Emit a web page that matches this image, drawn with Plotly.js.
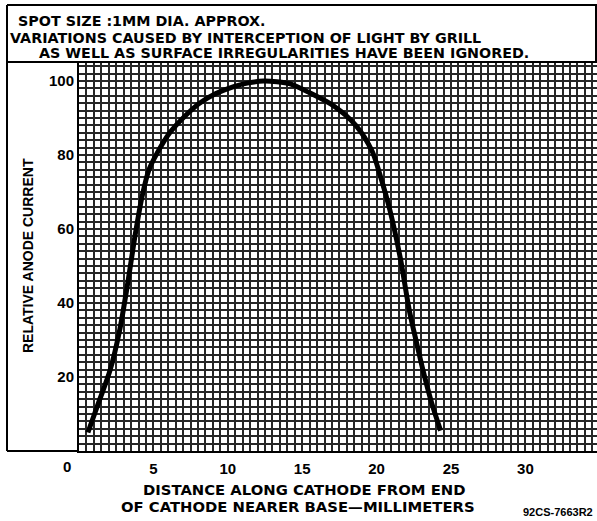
<!DOCTYPE html>
<html>
<head>
<meta charset="utf-8">
<script src="https://cdn.plot.ly/plotly-3.0.1.min.js"></script>
<style>html,body{margin:0;padding:0;background:#fff;}#chart{width:597px;height:521px;}</style>
</head>
<body>
<div id="chart"></div>
<script>
// Distance along cathode (mm) and relative anode current (%)
const distanceMm = [0.6, 1.4, 2.1, 2.75, 3.3, 3.8, 4.25, 4.7, 5.25, 6.1, 7.3, 8.1, 9.2, 10.4, 11.4, 12.4, 13.3, 14.2, 15.5, 17.1, 18.6, 19.7, 20.2, 20.9, 21.6, 22.2, 22.7, 23.2, 23.7, 24.3];
const relCurrent = [5, 14, 22, 33, 46, 59, 69, 76, 80.5, 86, 91.2, 94, 96.6, 98.5, 99.5, 100, 99.8, 99.2, 96.8, 93.3, 88, 81, 75, 65, 52, 38, 29, 20.5, 13, 5.5];

const xTickVals = [5, 10, 15, 20, 25, 30];
const xTickText = ["5", "10", "15", "20", "25", "30"];
const yTickVals = [20, 40, 60, 80, 100];
const yTickText = ["20", "40", "60", "80", "100"];

const headerLines = [
  "SPOT SIZE :1MM DIA. APPROX.",
  "VARIATIONS CAUSED BY INTERCEPTION OF LIGHT BY GRILL",
  "AS WELL AS SURFACE IRREGULARITIES HAVE BEEN IGNORED."
];
const xTitleLines = ["DISTANCE ALONG CATHODE FROM END", "OF CATHODE NEARER BASE\u2014MILLIMETERS"];
const yTitle = "RELATIVE ANODE CURRENT";
const figCode = "92CS-7663R2";

const W = 597, H = 521, L = 79, R = 0, T = 62, B = 70;
const pw = W - L - R, ph = H - T - B;
const px = v => (v - L) / pw;         // pixel x -> paper x
const py = v => (H - B - v) / ph;     // pixel y -> paper y
const xMax = pw / 14.88, yMax = ph / 3.7;

// graph-paper rulings: every 0.5 mm and every 2 units; labels only at the named ticks
const xGridStep = 0.5, yGridStep = 2;
const xGridVals = [], xGridText = [];
for (let i = 0; i * xGridStep <= xMax; i++) {
  const v = i * xGridStep; xGridVals.push(v);
  const k = xTickVals.indexOf(v); xGridText.push(k >= 0 ? xTickText[k] : "");
}
const yGridVals = [], yGridText = [];
for (let i = 0; i * yGridStep <= yMax; i++) {
  const v = i * yGridStep; yGridVals.push(v);
  const k = yTickVals.indexOf(v); yGridText.push(k >= 0 ? yTickText[k] : "");
}

const headFont = {family: "DejaVu Sans, sans-serif", size: 14.3, color: "#000", weight: 700};
const xTitleFont = {family: "DejaVu Sans, sans-serif", size: 14.8, color: "#000", weight: 700};
const tickFont = {family: "Liberation Sans, Arial, sans-serif", size: 15, color: "#000", weight: 700};
const yTitleFont = {family: "Liberation Sans, Arial, sans-serif", size: 14, color: "#000", weight: 700};
const gridCol = "#262626";

const trace = {
  x: distanceMm, y: relCurrent, type: "scatter", mode: "lines",
  line: {color: "#000", width: 5, shape: "spline", smoothing: 0.8},
  hoverinfo: "skip", showlegend: false
};

const ann = [];
ann.push({xref:"paper", yref:"paper", x:px(16), y:py(21), xanchor:"left", yanchor:"middle", text:headerLines[0], showarrow:false, font:headFont});
ann.push({xref:"paper", yref:"paper", x:px(8), y:py(37.5), xanchor:"left", yanchor:"middle", text:headerLines[1], showarrow:false, font:headFont});
ann.push({xref:"paper", yref:"paper", x:px(37), y:py(53), xanchor:"left", yanchor:"middle", text:headerLines[2], showarrow:false, font:headFont});
ann.push({xref:"paper", yref:"paper", x:px(304), y:py(489), xanchor:"center", yanchor:"middle", text:xTitleLines[0], showarrow:false, font:xTitleFont});
ann.push({xref:"paper", yref:"paper", x:px(298), y:py(506), xanchor:"center", yanchor:"middle", text:xTitleLines[1], showarrow:false, font:xTitleFont});
ann.push({xref:"paper", yref:"paper", x:px(595), y:py(512), xanchor:"right", yanchor:"middle", text:figCode, showarrow:false, font:{family:"Liberation Sans, Arial, sans-serif", size:11, color:"#000", weight:700}});
ann.push({xref:"paper", yref:"paper", x:px(28), y:py(256), xanchor:"center", yanchor:"middle", textangle:-90, text:yTitle, showarrow:false, font:yTitleFont});
ann.push({xref:"paper", yref:"paper", x:px(67), y:py(466), xanchor:"center", yanchor:"middle", text:"0", showarrow:false, font:tickFont});

const lineStyle = {color:"#000", width:2};
const shapes = [
  {type:"line", xref:"paper", yref:"paper", x0:px(7), x1:px(7), y0:py(451), y1:py(5), line:lineStyle},
  {type:"line", xref:"paper", yref:"paper", x0:px(7), x1:px(597), y0:py(5), y1:py(5), line:lineStyle},
  {type:"line", xref:"paper", yref:"paper", x0:px(7), x1:px(597), y0:1, y1:1, line:lineStyle},
  {type:"line", xref:"paper", yref:"paper", x0:px(7), x1:0, y0:0, y1:0, line:lineStyle},
  {type:"line", xref:"paper", yref:"paper", x0:px(596), x1:px(596), y0:1, y1:py(5), line:lineStyle}
];

const layout = {
  width: W, height: H,
  margin: {l: L, r: R, t: T, b: B, pad: 0},
  paper_bgcolor: "#fff", plot_bgcolor: "#fff",
  showlegend: false,
  xaxis: {
    range: [0, xMax], fixedrange: true,
    tickmode: "array", tickvals: xGridVals, ticktext: xGridText,
    ticks: "", ticklabelstandoff: 3, tickfont: tickFont,
    showgrid: true, gridcolor: gridCol, gridwidth: 2,
    zeroline: false, showline: true, linecolor: "#000", linewidth: 2
  },
  yaxis: {
    range: [0, yMax], fixedrange: true,
    tickmode: "array", tickvals: yGridVals, ticktext: yGridText,
    ticks: "", tickfont: tickFont,
    showgrid: true, gridcolor: gridCol, gridwidth: 2,
    zeroline: false, showline: true, linecolor: "#000", linewidth: 2
  },
  annotations: ann,
  shapes: shapes
};

Plotly.newPlot("chart", [trace], layout, {displayModeBar: false, staticPlot: true});
</script>
</body>
</html>
